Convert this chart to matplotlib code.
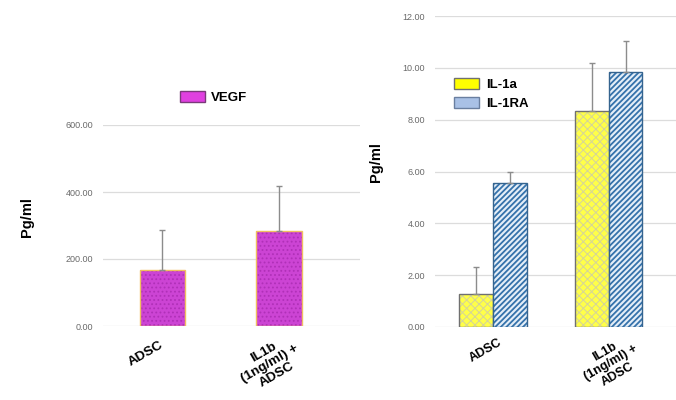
"""Cytokine levels: VEGF (pg/ml) and IL-1a / IL-1RA (pg/ml), ADSC vs IL1b-stimulated ADSC."""
import matplotlib
matplotlib.use("Agg")
import matplotlib.pyplot as plt
import matplotlib.patches as mpatches
import numpy as np

groups = ["ADSC", "IL1b\n(1ng/ml) +\nADSC"]

vegf_mean = [168, 285]
vegf_err = [120, 132]

il1a_mean = [1.27, 8.34]
il1a_err = [1.05, 1.85]
il1ra_mean = [5.56, 9.85]
il1ra_err = [0.42, 1.19]

vegf_ticks = [0, 200, 400, 600]
il_ticks = [0, 2, 4, 6, 8, 10, 12]

GRID = "#dcdcdc"
TICK = "#6a6a6a"
ERR = "#8c8c8c"

plt.rcParams["font.family"] = ["Liberation Sans", "DejaVu Sans"]


def _style(ax, ticks):
    ax.set_yticks(ticks)
    ax.set_yticklabels([f"{t:.2f}" for t in ticks], fontsize=6.5, color=TICK)
    ax.yaxis.grid(True, color=GRID, linewidth=0.9)
    ax.set_axisbelow(True)
    for s in ax.spines.values():
        s.set_visible(False)
    ax.tick_params(axis="both", length=0, pad=7)
    ax.set_ylabel("Pg/ml", fontsize=10.5, fontweight="bold")


def _hatched_bar(ax, x, h, w, face, hatch, hcolor, edge, hlw=0.8):
    # hatch colour follows edgecolor, so draw the outline separately
    with plt.rc_context({"hatch.linewidth": hlw}):
        ax.bar(x, h, w, color=face, hatch=hatch, edgecolor=hcolor, linewidth=0)
    ax.bar(x, h, w, fill=False, edgecolor=edge, linewidth=1.0)


def _xlabels(ax, xs, offsets, size):
    ax.set_xticks(xs)
    ax.set_xticklabels([])
    for x, g, off in zip(xs, groups, offsets):
        ax.annotate(g, xy=(x, 0), xycoords=("data", "axes fraction"),
                    xytext=off, textcoords="offset pixels",
                    rotation=30, rotation_mode="anchor", ha="center", va="center",
                    fontsize=size, fontweight="bold", multialignment="center",
                    linespacing=1.1, annotation_clip=False)


fig = plt.figure(figsize=(6.76, 4.0), dpi=100)

# VEGF panel
ax1 = fig.add_axes([103 / 676, (400 - 326) / 400, (360 - 103) / 676, (326 - 125) / 400])
x1 = np.arange(len(groups))
_hatched_bar(ax1, x1, vegf_mean, 0.39, "#cc44d4", "....", "#b030b8", "#f0c060")
ax1.errorbar(x1, vegf_mean, yerr=[np.zeros(len(x1)), vegf_err], fmt="none",
             ecolor=ERR, elinewidth=1.0, capsize=2)
ax1.set_ylim(0, 600)
ax1.set_xlim(-0.51, 1.695)
_style(ax1, vegf_ticks)
ax1.yaxis.set_label_coords(-0.27, 0.54)
_xlabels(ax1, x1, [(-17, -28), (-9, -38)], 9.7)
h_vegf = mpatches.Patch(facecolor="#e040e0", edgecolor="#7a3a7a", label="VEGF")
ax1.legend(handles=[h_vegf], loc="center", bbox_to_anchor=(0.43, 1.135), frameon=False,
           prop={"weight": "bold", "size": 9.5}, handlelength=1.9, handleheight=0.9,
           handletextpad=0.5)

# IL-1a / IL-1RA panel
ax2 = fig.add_axes([435 / 676, (400 - 327) / 400, (676 - 435) / 676, (327 - 16) / 400])
x2 = np.arange(len(groups))
w = 0.29
_hatched_bar(ax2, x2 - w / 2, il1a_mean, w, "#ffff48", "xxxx", "#d4d49a", "#707070", 0.7)
_hatched_bar(ax2, x2 + w / 2, il1ra_mean, w, "#e4eef8", "//////", "#3572ab", "#35648f", 1.3)
ax2.errorbar(x2 - w / 2, il1a_mean, yerr=[np.zeros(len(x2)), il1a_err], fmt="none",
             ecolor=ERR, elinewidth=1.0, capsize=2)
ax2.errorbar(x2 + w / 2, il1ra_mean, yerr=[np.zeros(len(x2)), il1ra_err], fmt="none",
             ecolor=ERR, elinewidth=1.0, capsize=2)
ax2.set_ylim(0, 12)
ax2.set_xlim(-0.5, 1.58)
_style(ax2, il_ticks)
ax2.yaxis.set_label_coords(-0.215, 0.53)
_xlabels(ax2, x2, [(-7, -24), (2, -36)], 9)
h_a = mpatches.Patch(facecolor="#ffff00", edgecolor="#707070", label="IL-1a")
h_ra = mpatches.Patch(facecolor="#a9c1e6", edgecolor="#6a7fa0", label="IL-1RA")
ax2.legend(handles=[h_a, h_ra], loc="upper left", bbox_to_anchor=(0.03, 0.84), frameon=False,
           prop={"weight": "bold", "size": 9.5}, handlelength=1.9, handleheight=0.9,
           labelspacing=0.45, handletextpad=0.5)

fig.savefig("out.png", dpi=100)
